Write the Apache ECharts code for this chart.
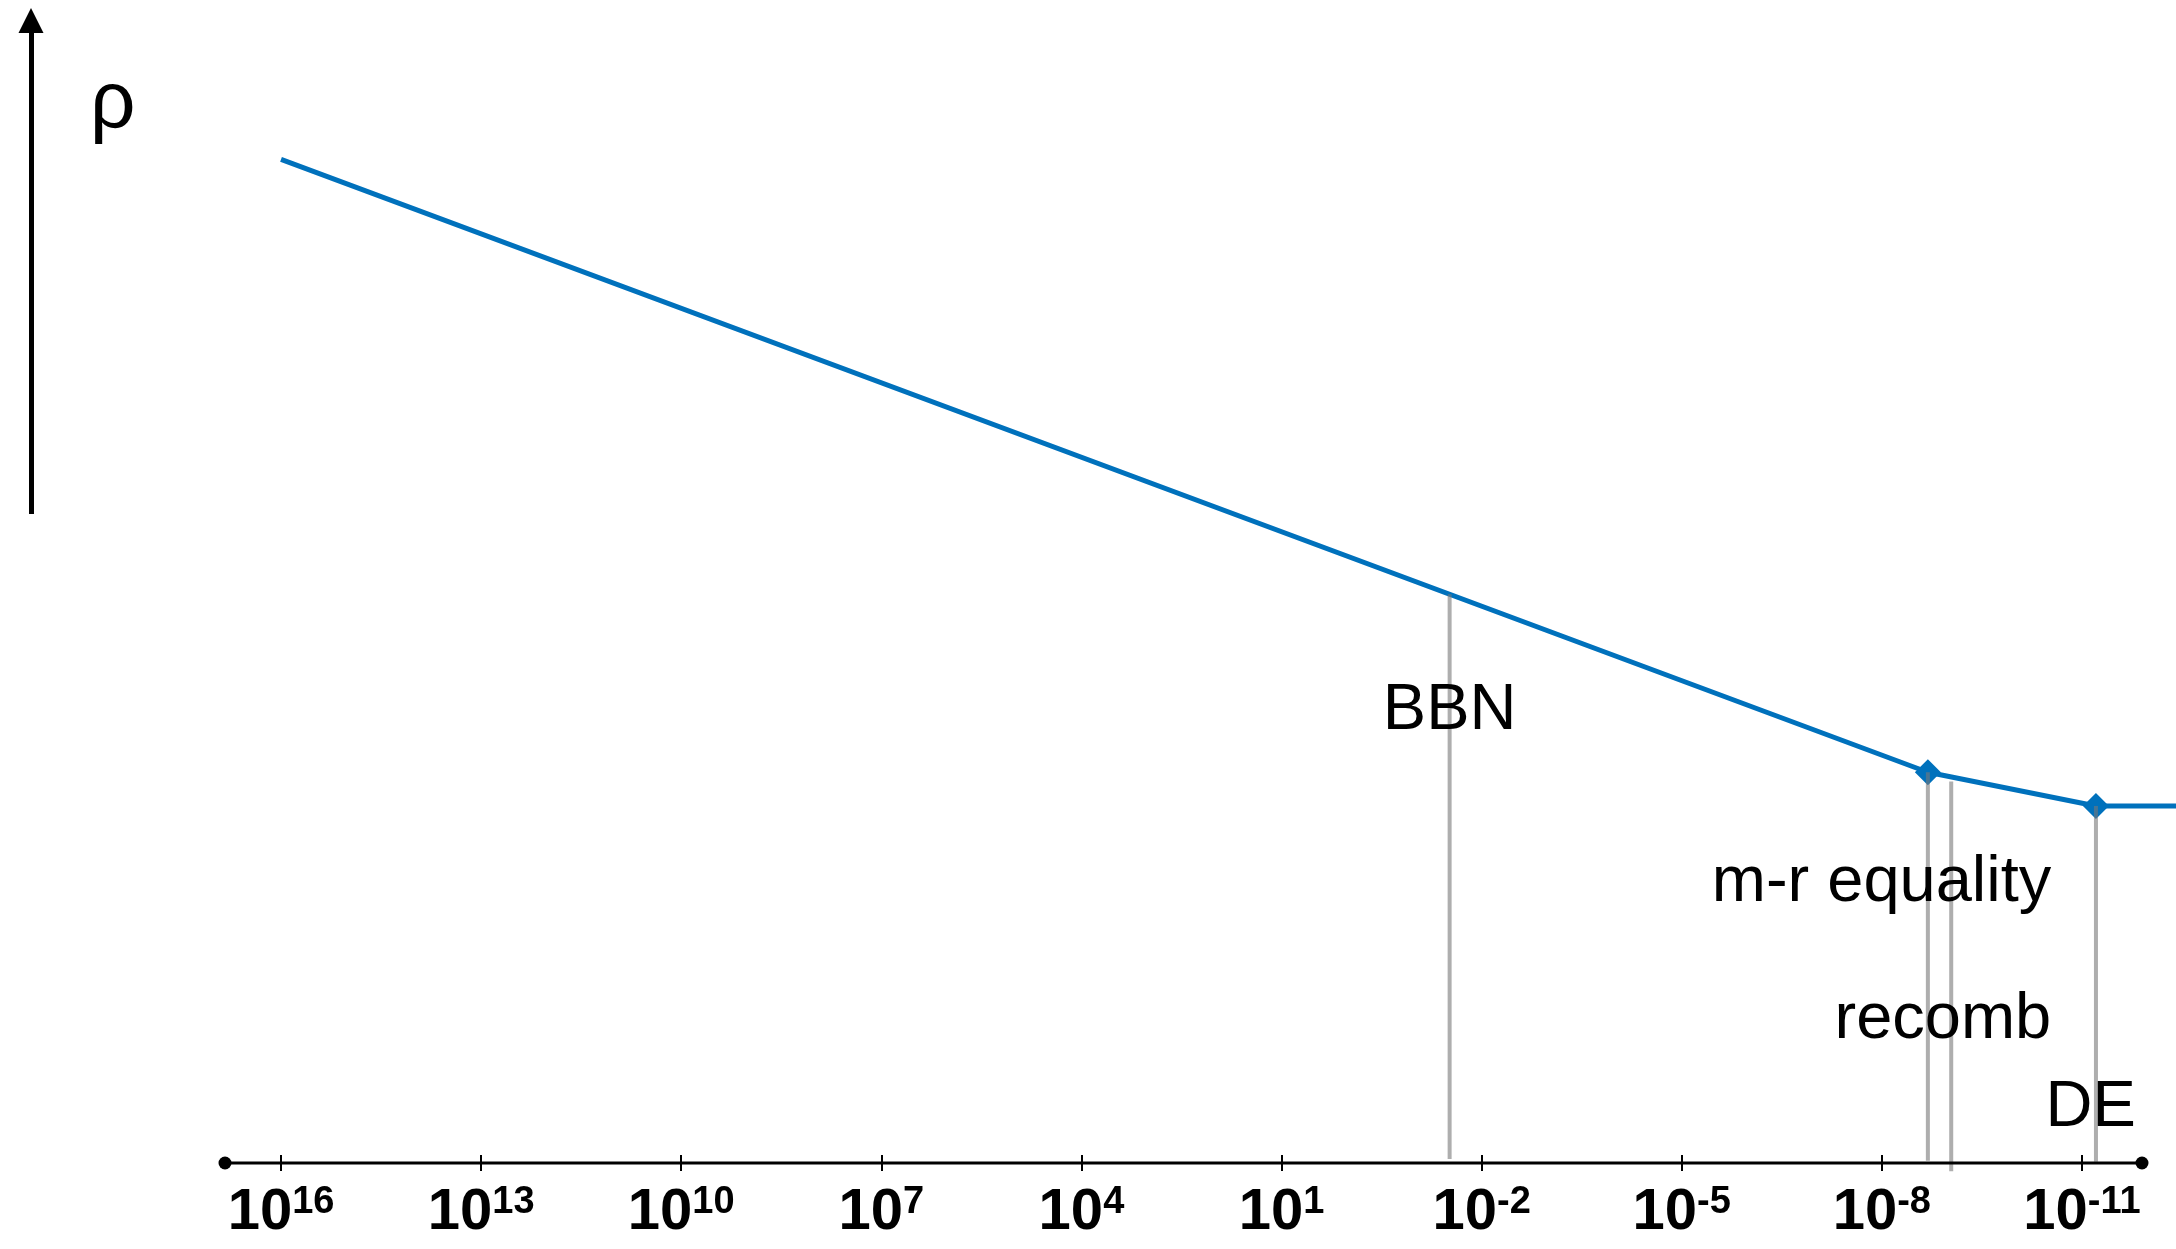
<!DOCTYPE html>
<html>
<head>
<meta charset="utf-8">
<script src="https://cdn.jsdelivr.net/npm/echarts@6/dist/echarts.min.js"></script>
<style>
  html, body { margin: 0; padding: 0; background: #ffffff; }
  #chart { width: 2176px; height: 1249px; }
</style>
</head>
<body>
<div id="chart"></div>
<script>
// Powers of ten marked on the horizontal axis (decreasing to the right)
const tickExponents = [16, 13, 10, 7, 4, 1, -2, -5, -8, -11];

// Ends of the drawn horizontal axis line (exponents)
const axisEnds = [16.84, -11.9];

// Density curve: exponent on the horizontal axis, relative log density upward
const curveExp = [16, -8.69, -11.21, -12.41];
const curveRho = [86.3, 33.6, 30.7, 30.7];

// Epochs marked with grey drop lines
const eventNames = ['BBN', 'm-r equality', 'recomb', 'DE'];
const eventExp = [-1.52, -8.69, -9.04, -11.21];
const eventTop = [48.9, 33.6, 32.8, 30.7];
const eventBottom = [0.35, 0.2, -0.7, 0.1];

const FONT = '"Liberation Sans", Arial, Helvetica, sans-serif';
const BLUE = '#0071BC';

// Where each epoch name sits (data coordinates) and how it is aligned
const labelPlacement = {
  'BBN': { at: [-1.52, 38.9], align: 'center' },
  'm-r equality': { at: [-10.54, 24.1], align: 'right' },
  'recomb': { at: [-10.54, 12.25], align: 'right' },
  'DE': { at: [-11.13, 4.7], align: 'center' }
};

const chart = echarts.init(document.getElementById('chart'), null, { renderer: 'canvas' });

// plotting range spans the full width; the drawn axis line is shorter
const xRange = { min: -12.41, max: 16.84 };
const nCurve = curveExp.length;

const tickAxisBase = {
  gridIndex: 0,
  type: 'value',
  inverse: true,
  min: xRange.min,
  max: xRange.max,
  position: 'bottom',
  splitLine: { show: false }
};

const option = {
  animation: false,
  backgroundColor: '#ffffff',
  title: {
    text: 'ρ',
    left: 90,
    top: 65,
    padding: 0,
    textStyle: { fontSize: 80, fontWeight: 'normal', color: '#000', fontFamily: FONT }
  },
  grid: [
    { left: 225, right: 0, top: 0, bottom: 86, containLabel: false },
    { left: 31, width: 1, top: 20.5, bottom: 735, containLabel: false }
  ],
  xAxis: [
    Object.assign({}, tickAxisBase, {
      axisLine: { show: false, onZero: false },
      axisTick: {
        show: true,
        inside: false,
        length: 8,
        customValues: tickExponents,
        lineStyle: { color: '#000', width: 2 }
      },
      axisLabel: {
        show: true,
        customValues: tickExponents,
        margin: 21,
        formatter: (v) => '{b|10}{s|' + v + '}',
        rich: {
          b: { fontSize: 58, fontWeight: 'bold', fontFamily: FONT, color: '#000', lineHeight: 58 },
          s: { fontSize: 38, fontWeight: 'bold', fontFamily: FONT, color: '#000', lineHeight: 38, verticalAlign: 'top' }
        }
      }
    }),
    Object.assign({}, tickAxisBase, {
      // upper half of the crossing ticks
      axisLine: { show: false, onZero: false },
      axisTick: {
        show: true,
        inside: true,
        length: 8,
        customValues: tickExponents,
        lineStyle: { color: '#000', width: 2 }
      },
      axisLabel: { show: false }
    }),
    { gridIndex: 1, type: 'value', show: false, min: 0, max: 1 }
  ],
  yAxis: [
    { gridIndex: 0, type: 'value', min: 0, max: 100, show: false },
    {
      gridIndex: 1,
      type: 'value',
      min: 0,
      max: 1,
      position: 'left',
      axisLine: {
        show: true,
        onZero: false,
        symbol: ['none', 'triangle'],
        symbolSize: [25, 25],
        lineStyle: { color: '#000', width: 5, cap: 'butt' }
      },
      axisTick: { show: false },
      axisLabel: { show: false },
      splitLine: { show: false }
    }
  ],
  series: [
    {
      // the horizontal axis line with round end points
      name: 'axis',
      type: 'line',
      xAxisIndex: 0,
      yAxisIndex: 0,
      clip: false,
      z: 5,
      silent: true,
      data: axisEnds.map((x) => [x, 0]),
      symbol: 'circle',
      symbolSize: 13,
      showAllSymbol: true,
      lineStyle: { color: '#000', width: 3 },
      itemStyle: { color: '#000' },
      emphasis: { disabled: true }
    },
    {
      name: 'density',
      type: 'line',
      xAxisIndex: 0,
      yAxisIndex: 0,
      clip: false,
      z: 2,
      data: curveExp.map((x, i) => [x, curveRho[i]]),
      symbol: (value, params) => (params.dataIndex > 0 && params.dataIndex < nCurve - 1 ? 'diamond' : 'none'),
      symbolSize: 26,
      showAllSymbol: true,
      lineStyle: { color: BLUE, width: 5 },
      itemStyle: { color: BLUE },
      emphasis: { disabled: true }
    },
    {
      name: 'epochs',
      type: 'custom',
      xAxisIndex: 0,
      yAxisIndex: 0,
      clip: false,
      z: 3,
      silent: true,
      data: eventExp.map((x, i) => [x, eventTop[i], eventBottom[i]]),
      renderItem: (params, api) => {
        const p1 = api.coord([api.value(0), api.value(1)]);
        const p2 = api.coord([api.value(0), api.value(2)]);
        return {
          type: 'line',
          shape: { x1: p1[0], y1: p1[1], x2: p2[0], y2: p2[1] },
          style: { stroke: 'rgba(120,120,120,0.6)', lineWidth: 4 }
        };
      }
    },
    {
      name: 'epoch names',
      type: 'scatter',
      xAxisIndex: 0,
      yAxisIndex: 0,
      clip: false,
      z: 4,
      silent: true,
      symbolSize: 0,
      itemStyle: { opacity: 1 },
      data: eventNames.map((name) => ({
        name: name,
        value: labelPlacement[name].at,
        label: { align: labelPlacement[name].align }
      })),
      label: {
        show: true,
        position: 'inside',
        formatter: '{b}',
        fontSize: 65,
        fontFamily: FONT,
        color: '#000',
        opacity: 1,
        verticalAlign: 'middle'
      }
    }
  ]
};

chart.setOption(option);
</script>
</body>
</html>
